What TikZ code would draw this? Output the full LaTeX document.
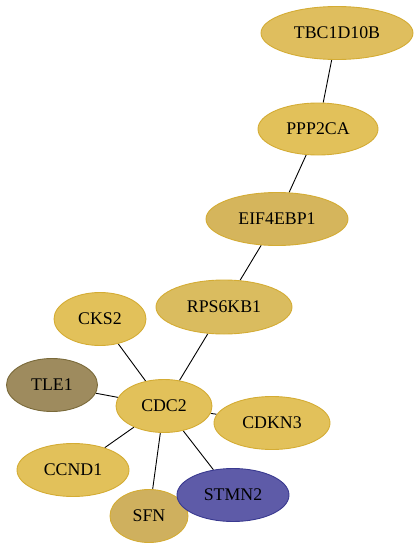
\documentclass[tikz,border=0pt]{standalone}
\usepackage{fontspec}
\setmainfont{Liberation Serif}
\usetikzlibrary{shapes.geometric, backgrounds}

\definecolor{goldfill}{HTML}{E2C15A}
\definecolor{goldline}{HTML}{D4AC34}
\definecolor{tbcfill}{HTML}{DFBE5E}
\definecolor{eiffill}{HTML}{D5B55C}
\definecolor{rpsfill}{HTML}{DABC5F}
\definecolor{sfnfill}{HTML}{CFB05E}
\definecolor{tlefill}{HTML}{9E8B5E}
\definecolor{tleline}{HTML}{7A6A3A}
\definecolor{stmfill}{HTML}{5E5BA8}
\definecolor{stmline}{HTML}{3A3A90}

\tikzset{
  gene/.style={ellipse, draw=goldline, fill=goldfill, line width=0.9pt, inner sep=0pt,
    font=\fontsize{17.8}{20}\selectfont},
  link/.style={draw=black, line width=0.9pt}
}

\begin{document}
\begin{tikzpicture}[x=1pt, y=-1pt]
    \useasboundingbox (0,0) rectangle (419,549);
    \node[gene, fill=tbcfill, minimum width=152pt, minimum height=53pt] (tbc) at (337,33) {TBC1D10B};
    \node[gene, minimum width=120pt, minimum height=52pt] (ppp) at (318,129) {PPP2CA};
    \node[gene, fill=eiffill, minimum width=142pt, minimum height=53pt] (eif) at (277,219) {EIF4EBP1};
    \node[gene, fill=rpsfill, minimum width=136pt, minimum height=54pt] (rps) at (224,307) {RPS6KB1};
    \node[gene, minimum width=92pt, minimum height=53pt] (cks) at (100,319) {CKS2};
    \node[gene, fill=tlefill, draw=tleline, minimum width=91pt, minimum height=53pt] (tle) at (52,385) {TLE1};
    \node[gene, minimum width=96pt, minimum height=53pt] (cdc) at (164,406) {CDC2};
    \node[gene, minimum width=116pt, minimum height=53pt] (cdkn) at (272,423) {CDKN3};
    \node[gene, minimum width=112pt, minimum height=53pt] (ccnd) at (73,470) {CCND1};
    \node[gene, fill=sfnfill, minimum width=78pt, minimum height=53pt] (sfn) at (149,516) {SFN};
    \node[gene, fill=stmfill, draw=stmline, minimum width=112pt, minimum height=53pt] (stm) at (233,495) {STMN2};
    \begin{scope}[on background layer]
    \draw[link] (tbc) -- (ppp);
    \draw[link] (ppp) -- (eif);
    \draw[link] (eif) -- (rps);
    \draw[link] (rps) -- (cdc);
    \draw[link] (cks) -- (cdc);
    \draw[link] (tle) -- (cdc);
    \draw[link] (cdc) -- (cdkn);
    \draw[link] (cdc) -- (ccnd);
    \draw[link] (cdc) -- (sfn);
    \draw[link] (cdc) -- (stm);
    \end{scope}
\end{tikzpicture}
\end{document}
